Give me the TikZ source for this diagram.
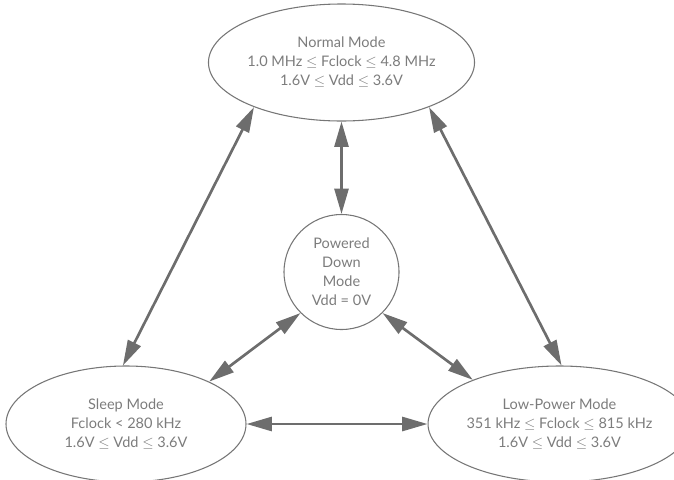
\documentclass[tikz,border=0pt]{standalone}
\usepackage{fontspec}
\setmainfont{Lato}
\usetikzlibrary{shapes.geometric,arrows.meta}
\definecolor{linegray}{HTML}{6D6D6D}
\definecolor{rimgray}{HTML}{767676}
\definecolor{textgray}{HTML}{7C7C7C}

\begin{document}
\begin{tikzpicture}[x=0.75pt, y=-0.75pt,
    mode/.style={ellipse, draw=rimgray, line width=0.8pt, inner sep=0pt,
        align=center, text=textgray, font=\fontsize{10.9}{14.3}\selectfont},
    link/.style={linegray, line width=2pt,
        {Triangle[length=19pt,width=10.5pt]}-{Triangle[length=19pt,width=10.5pt]}}]
    \useasboundingbox (0,0) rectangle (674,479);

    % Modes
    \node[mode, minimum width=173.25pt, minimum height=87.75pt] (normal) at (341.5,62.5)
        {Normal Mode\\1.0 MHz $\leq$ Fclock $\leq$ 4.8 MHz\\1.6V $\leq$ Vdd $\leq$ 3.6V};
    \node[mode, minimum width=86.25pt, minimum height=86.25pt] (down) at (341.5,272)
        {Powered\\Down\\Mode\\Vdd = 0V};
    \node[mode, minimum width=180pt, minimum height=87pt] (sleep) at (126,424)
        {Sleep Mode\\Fclock < 280 kHz\\1.6V $\leq$ Vdd $\leq$ 3.6V};
    \node[mode, minimum width=170.25pt, minimum height=87pt] (lowpower) at (559.5,424)
        {Low-Power Mode\\351 kHz $\leq$ Fclock $\leq$ 815 kHz\\1.6V $\leq$ Vdd $\leq$ 3.6V};

    % Transitions
    \draw[link] (normal.207) -- (sleep.93);
    \draw[link] (normal.333) -- (lowpower.88);
    \draw[link] (normal.south) -- (down.north);
    \draw[link] (down.225) -- (sleep.27);
    \draw[link] (down.315) -- (lowpower.153);
    \draw[link] (sleep.east) -- (lowpower.west);
\end{tikzpicture}
\end{document}
